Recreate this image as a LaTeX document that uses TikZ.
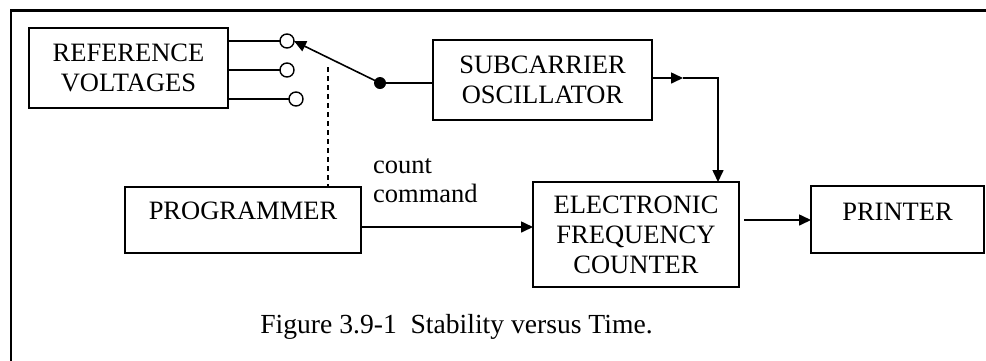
\documentclass[tikz,border=0pt]{standalone}
\usepackage{fontspec}
\setmainfont{Liberation Serif}
\usetikzlibrary{arrows.meta,calc}
\begin{document}
\begin{tikzpicture}[x=1pt,y=-1pt,
  box/.style={draw, line width=1.4pt, inner sep=0pt, outer sep=0pt, align=center,
    font=\fontsize{26.5}{30}\selectfont},
  conn/.style={line width=1.6pt},
  arr/.style={conn, -{Triangle[length=12pt,width=11pt]}},
  contact/.style={circle, draw, fill=white, line width=1.4pt, minimum size=14pt, inner sep=0pt, outer sep=0pt},
  pivot/.style={circle, fill=black, minimum size=12pt, inner sep=0pt, outer sep=0pt},
  lbl/.style={font=\fontsize{26.5}{30}\selectfont, inner sep=0pt, align=left}]
\useasboundingbox (0,0) rectangle (986,360);
% frame
\draw[line width=2.6pt] (11,362) -- (11,10.5) -- (988,10.5);
% boxes
\node[box, minimum width=199pt, minimum height=80pt] (ref) at (128.5,68) {REFERENCE\\VOLTAGES};
\node[box, minimum width=219pt, minimum height=80pt] (sub) at (542.5,80) {SUBCARRIER\\OSCILLATOR};
\node[box, minimum width=236pt, minimum height=66pt,
  label={[lbl, yshift=9pt]center:PROGRAMMER}] (prog) at (243,220) {};
\node[box, minimum width=206pt, minimum height=105pt] (efc) at (636,234.5) {ELECTRONIC\\FREQUENCY\\COUNTER};
\node[box, minimum width=173pt, minimum height=67pt,
  label={[lbl, yshift=8pt]center:PRINTER}] (prn) at (897.5,219.5) {};
% switch contacts
\node[contact] (c1) at (287,41) {};
\node[contact] (c2) at (287,70) {};
\node[contact] (c3) at (296,99) {};
\node[pivot] (piv) at (380,83) {};
\draw[conn] (ref.east |- c1) -- (c1.west);
\draw[conn] (ref.east |- c2) -- (c2.west);
\draw[conn] (ref.east |- c3) -- (c3.west);
\draw[arr] (piv.center) -- (c1.east);
\draw[conn] (piv.center) -- (sub.west |- piv);
% dashed mechanical link
\coordinate (dtop) at (328,67);
\draw[line width=1.4pt, dash pattern=on 5pt off 4pt] (dtop) -- (prog.north -| dtop);
% subcarrier to counter
\coordinate (s1) at (683,78);
\coordinate (s2) at (718,78);
\draw[arr] (sub.east |- s1) -- (s1);
\draw[arr] (s1) -- (s2) -- (efc.north -| s2);
% programmer to counter
\coordinate (p1) at (361,227);
\draw[arr] (prog.east |- p1) -- (efc.west |- p1);
\node[lbl, anchor=base west] (cnt) at (373,173) {count};
\node[lbl, anchor=base west] (cmd) at (373,202) {command};
% counter to printer
\coordinate (e1) at (744,220);
\draw[arr] (e1) -- (prn.west |- e1);
% caption
\node[font=\fontsize{27.6}{30}\selectfont, inner sep=0pt, anchor=base] (cap) at (456.5,333) {Figure 3.9-1\ \ Stability versus Time.};
\end{tikzpicture}
\end{document}
